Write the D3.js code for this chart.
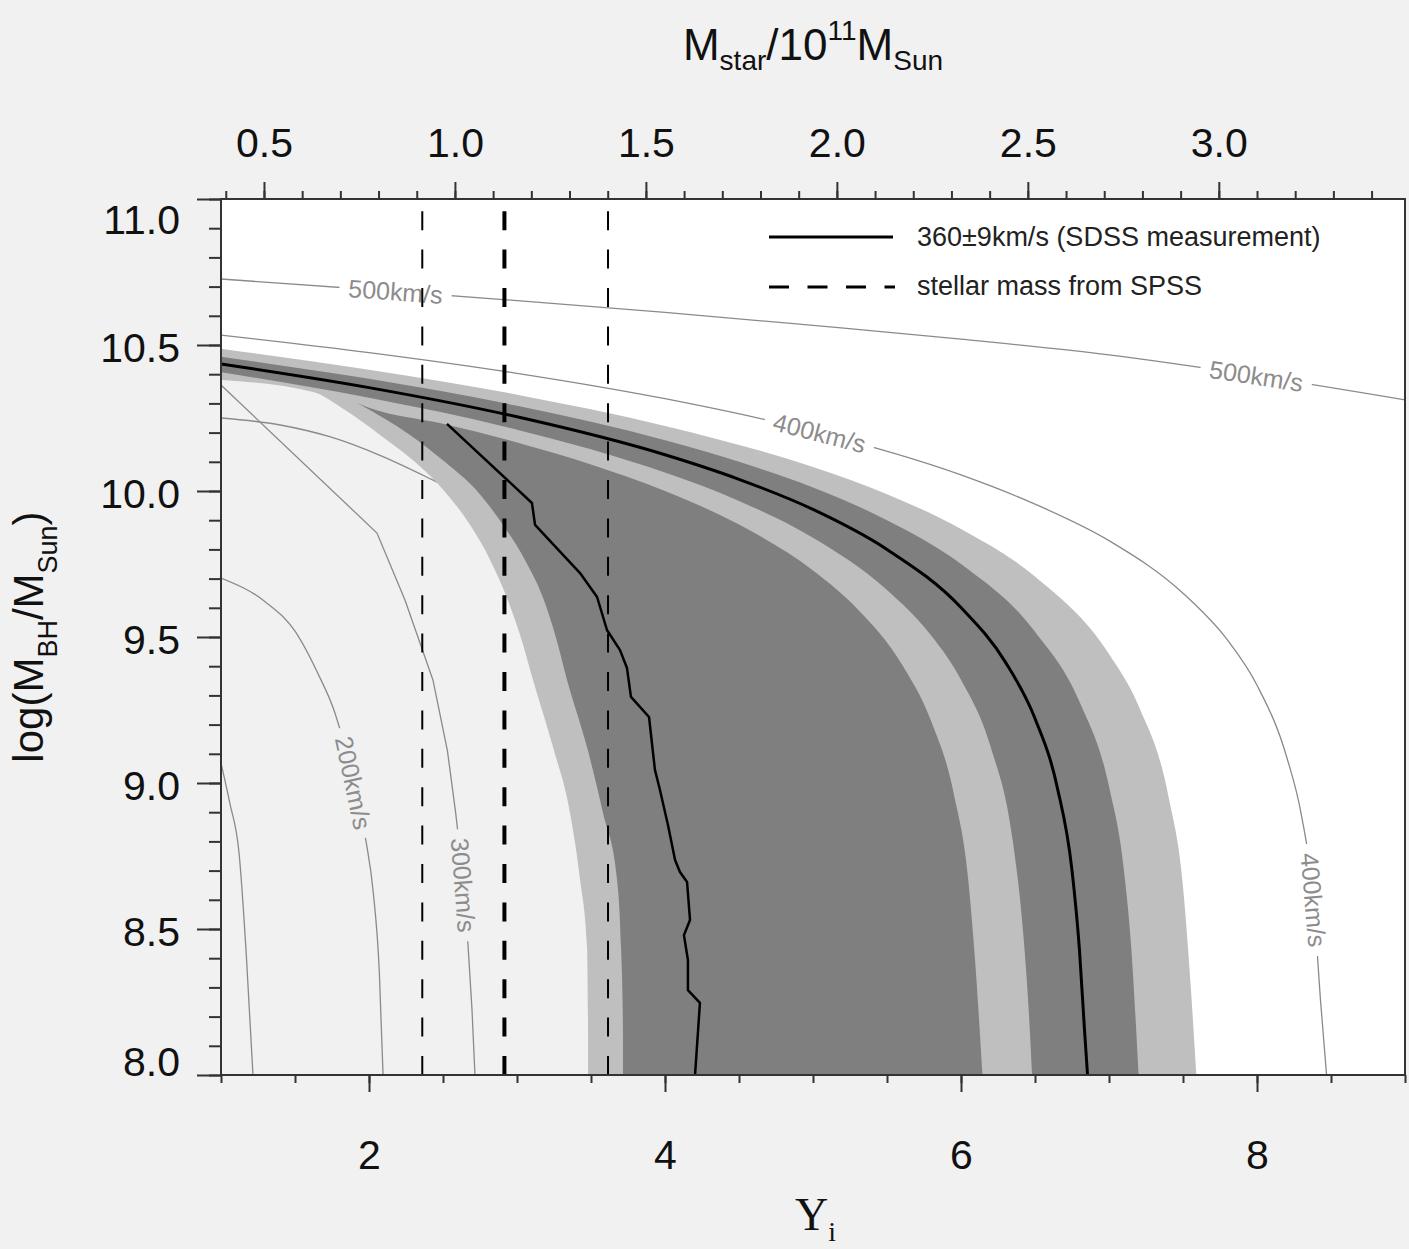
<!DOCTYPE html>
<html>
<head>
<meta charset="utf-8">
<script src="https://cdn.jsdelivr.net/npm/d3@7"></script>
<style>
  html, body { margin: 0; padding: 0; background: #f1f1f1; }
  svg { display: block; }
</style>
</head>
<body>
<svg id="chart"></svg>
<script>
// all curves are [Upsilon_i, log(M_BH/M_Sun)]

// 360 +/- 9 km/s band (SDSS)
const vel360 = [[1,10.435],[2,10.354],[3,10.254],[4,10.124],[4.5,10.04],[5,9.937],[5.5,9.8],[6,9.601],[6.3,9.414],[6.5,9.221],[6.65,8.986],[6.75,8.701],[6.8,8.431],[6.835,8.15],[6.855,8.0]];
const velHi1 = [[1,10.46],[2,10.384],[3,10.292],[4,10.174],[4.5,10.1],[5,10.012],[5.5,9.9],[6,9.75],[6.5,9.518],[6.8,9.279],[7,8.988],[7.1,8.705],[7.15,8.438],[7.2,8.0]];
const velLo1 = [[1,10.407],[2,10.319],[3,10.21],[4,10.063],[4.5,9.966],[5,9.84],[5.5,9.661],[5.8,9.504],[6,9.354],[6.2,9.124],[6.35,8.801],[6.42,8.487],[6.46,8.2],[6.48,8.0]];
const velHi2 = [[1,10.487],[2,10.415],[3,10.33],[4,10.223],[5,10.082],[5.5,9.989],[6,9.87],[6.5,9.707],[7,9.442],[7.2,9.264],[7.4,8.958],[7.5,8.645],[7.55,8.32],[7.59,8.0]];
const velLo2 = [[1,10.379],[1.5,10.335],[2,10.285],[2.5,10.23],[3,10.166],[3.5,10.091],[4,10.0],[4.5,9.885],[5,9.728],[5.3,9.596],[5.6,9.407],[5.8,9.21],[5.95,8.966],[6.05,8.663],[6.1,8.358],[6.145,8.0]];

// second constraint: region edges and its track
const regionOuter = [[1.0,10.38],[1.622,10.339],[1.838,10.277],[2.074,10.192],[2.311,10.099],[2.514,9.997],[2.682,9.884],[2.818,9.764],[2.932,9.634],[3.027,9.497],[3.108,9.353],[3.243,9.123],[3.358,8.897],[3.426,8.668],[3.473,8.438],[3.48,8.154],[3.48,8.0]];
const regionInner = [[1.919,10.301],[2.277,10.192],[2.514,10.099],[2.736,9.997],[2.905,9.884],[3.054,9.764],[3.176,9.634],[3.264,9.497],[3.338,9.353],[3.473,9.123],[3.581,8.897],[3.676,8.668],[3.703,8.438],[3.716,8.154],[3.716,8.0]];
const regionTrack = [[2.527,10.23],[3.101,9.959],[3.122,9.884],[3.426,9.719],[3.541,9.637],[3.608,9.524],[3.696,9.455],[3.743,9.394],[3.77,9.295],[3.892,9.226],[3.932,9.045],[3.966,8.976],[4.02,8.856],[4.068,8.736],[4.101,8.695],[4.149,8.661],[4.169,8.531],[4.128,8.479],[4.155,8.394],[4.155,8.291],[4.236,8.247],[4.203,8.0]];

// velocity contours
const c500 = [[1,10.726],[2,10.69],[3,10.652],[4,10.612],[5,10.567],[6,10.52],[7,10.466],[8,10.394],[9,10.312]];
const c400 = [[1,10.534],[2,10.474],[3,10.403],[4,10.316],[5,10.205],[6,10.055],[6.5,9.955],[7,9.83],[7.5,9.65],[7.8,9.49],[8,9.335],[8.2,9.09],[8.3,8.89],[8.38,8.61],[8.43,8.25],[8.47,8.0]];
const cLowA = [[1.0,10.25],[1.4,10.226],[1.74,10.185],[2.07,10.123],[2.43,10.038],[2.57,10.003],[2.8,9.93]];
const c300 = [[1.0,10.363],[2.054,9.856],[2.243,9.627],[2.432,9.353],[2.53,9.11],[2.585,8.9],[2.63,8.7],[2.669,8.445],[2.696,8.223],[2.716,8.0]];
const c200 = [[1.0,9.702],[1.3,9.62],[1.5,9.52],[1.65,9.38],[1.77,9.24],[1.85,9.1],[1.92,8.94],[1.98,8.8],[2.03,8.62],[2.07,8.35],[2.095,8.0]];
const cLowB = [[1.0,9.068],[1.06,8.93],[1.122,8.76],[1.17,8.42],[1.216,8.0]];

const contourLabels = [
  { curve: c500, text: "500km/s", at: [2.18, 10.685], bg: "white" },
  { curve: c500, text: "500km/s", at: [7.99, 10.39], bg: "white" },
  { curve: c400, text: "400km/s", at: [5.05, 10.209], bg: "white" },
  { curve: c400, text: "400km/s", at: [8.39, 8.6], bg: "white" },
  { curve: c200, text: "200km/s", at: [1.875, 9.0], bg: "paper" },
  { curve: c300, text: "300km/s", at: [2.635, 8.65], bg: "paper" }
];

// stellar mass from SPSS, in Upsilon_i
const spssUpsilon = [2.36, 2.915, 3.615];
const mstarPerUpsilon = 0.3875;   // M_star/1e11 for Upsilon_i = 1

const xTicks = [2, 4, 6, 8];
const topTicks = [0.5, 1.0, 1.5, 2.0, 2.5, 3.0];
const yTicks = [8.0, 8.5, 9.0, 9.5, 10.0, 10.5, 11.0];

const PAPER = "#f1f1f1", LIGHT = "#bfbfbf", DARK = "#7f7f7f";
const SANS = '"Liberation Sans", Arial, Helvetica, sans-serif';

const W = 1409, H = 1249;
const box = { left: 221, right: 1405, top: 199, bottom: 1075 };

const svg = d3.select("#chart").attr("width", W).attr("height", H);
svg.append("rect").attr("width", W).attr("height", H).attr("fill", PAPER);

const x = d3.scaleLinear().domain([1, 9]).range([box.left, box.right]);
const y = d3.scaleLinear().domain([8, 11]).range([box.bottom, box.top]);
const xTop = d3.scaleLinear().domain(x.domain().map(d => d * mstarPerUpsilon)).range(x.range());

const smooth = d3.line().x(d => x(d[0])).y(d => y(d[1])).curve(d3.curveMonotoneX);
const straight = d3.line().x(d => x(d[0])).y(d => y(d[1]));

function band(a, b) {
    return smooth(a) + smooth(b.slice().reverse()).replace(/^M/, "L") + "Z";
}

svg.append("clipPath").attr("id", "plotclip").append("rect")
    .attr("x", box.left).attr("y", box.top)
    .attr("width", box.right - box.left).attr("height", box.bottom - box.top);

const plot = svg.append("g").attr("clip-path", "url(#plotclip)");

// white above, paper below the outer edge of the second region
plot.append("rect")
    .attr("x", box.left).attr("y", box.top)
    .attr("width", box.right - box.left).attr("height", box.bottom - box.top)
    .attr("fill", "white");
plot.append("path")
    .attr("d", smooth(regionOuter) + `L${x(1)},${y(8)}Z`)
    .attr("fill", PAPER);

// contour lines (under the shading)
const contourPaths = new Map();
[c500, c400, cLowA, c300, c200, cLowB].forEach(c => {
    const gen = c === c300 ? straight : smooth;
    const p = plot.append("path")
        .attr("d", gen(c))
        .attr("fill", "none")
        .attr("stroke", "#8a8a8a")
        .attr("stroke-width", 1.3);
    contourPaths.set(c, p.node());
});

// shading
plot.append("path").attr("d", band(velHi2, regionOuter)).attr("fill", LIGHT);
plot.append("path").attr("d", band(velHi1, velLo1)).attr("fill", DARK);
const upper = [regionInner[0]].concat(velLo2.filter(p => p[0] > regionInner[0][0]));
plot.append("path").attr("d", band(upper, regionInner)).attr("fill", DARK);

// contour labels sitting on the lines
contourLabels.forEach(lb => {
    const node = contourPaths.get(lb.curve);
    const px = x(lb.at[0]), py = y(lb.at[1]);
    const len = node.getTotalLength();
    let best = 0, bestD = Infinity;
    for (let s = 0; s <= len; s += 1) {
        const p = node.getPointAtLength(s);
        const d = (p.x - px) * (p.x - px) + (p.y - py) * (p.y - py);
        if (d < bestD) { bestD = d; best = s; }
    }
    const a = node.getPointAtLength(Math.max(0, best - 6));
    const b = node.getPointAtLength(Math.min(len, best + 6));
    const c = node.getPointAtLength(best);
    const ang = Math.atan2(b.y - a.y, b.x - a.x) * 180 / Math.PI;
    const g = plot.append("g").attr("transform", `translate(${c.x},${c.y}) rotate(${ang})`);
    const t = g.append("text")
        .attr("text-anchor", "middle")
        .attr("dy", "0.36em")
        .style("font", `25px ${SANS}`)
        .attr("fill", "#8c8c8c")
        .text(lb.text);
    const bb = t.node().getBBox();
    g.insert("rect", "text")
        .attr("x", bb.x - 9).attr("y", -7)
        .attr("width", bb.width + 18).attr("height", 14)
        .attr("fill", lb.bg === "paper" ? PAPER : "white");
});

// measured curve and track
plot.append("path").attr("d", smooth(vel360))
    .attr("fill", "none").attr("stroke", "black").attr("stroke-width", 3);
plot.append("path").attr("d", straight(regionTrack))
    .attr("fill", "none").attr("stroke", "black").attr("stroke-width", 2.5)
    .attr("stroke-linejoin", "round");

// SPSS stellar mass
plot.selectAll(".spss")
    .data(spssUpsilon)
    .enter()
    .append("line")
    .attr("x1", d => x(d)).attr("x2", d => x(d))
    .attr("y1", y(8)).attr("y2", y(11))
    .attr("stroke", "black")
    .attr("stroke-width", (d, i) => i === 1 ? 4 : 2)
    .attr("stroke-dasharray", "19 19.4");

// frame
svg.append("rect")
    .attr("x", box.left).attr("y", box.top)
    .attr("width", box.right - box.left).attr("height", box.bottom - box.top)
    .attr("fill", "none").attr("stroke", "#333").attr("stroke-width", 2);

function styleAxis(g) {
    g.select(".domain").remove();
    g.selectAll("line").attr("stroke", "#333").attr("stroke-width", 2);
    g.selectAll("text").attr("fill", "#111").style("font", `41px ${SANS}`);
}

// bottom axis
svg.append("g").attr("transform", `translate(0,${box.bottom})`)
    .call(d3.axisBottom(x).tickValues(d3.range(2, 19).map(d => d / 2)).tickSize(8).tickFormat(""))
    .call(styleAxis);
svg.append("g").attr("transform", `translate(0,${box.bottom})`)
    .call(d3.axisBottom(x).tickValues(xTicks).tickSize(17).tickPadding(48).tickFormat(d3.format("d")))
    .call(styleAxis);

// top axis
svg.append("g").attr("transform", `translate(0,${box.top})`)
    .call(d3.axisTop(xTop).tickValues(d3.range(4, 35).map(d => d / 10)).tickSize(8).tickFormat(""))
    .call(styleAxis);
svg.append("g").attr("transform", `translate(0,${box.top})`)
    .call(d3.axisTop(xTop).tickValues(topTicks).tickSize(17).tickPadding(25).tickFormat(d3.format(".1f")))
    .call(styleAxis);

// left axis
svg.append("g").attr("transform", `translate(${box.left},0)`)
    .call(d3.axisLeft(y).tickValues(d3.range(80, 111).map(d => d / 10)).tickSize(12).tickFormat(""))
    .call(styleAxis);
const yAx = svg.append("g").attr("transform", `translate(${box.left},0)`)
    .call(d3.axisLeft(y).tickValues(yTicks).tickSize(24).tickPadding(17).tickFormat(d3.format(".1f")))
    .call(styleAxis);
yAx.selectAll("text").attr("transform", d => `translate(0,${d === 11 ? 21 : d === 8 ? -13 : 3})`);

// legend
const leg = svg.append("g");
leg.append("line").attr("x1", 769).attr("x2", 893).attr("y1", 237).attr("y2", 237)
    .attr("stroke", "black").attr("stroke-width", 3);
leg.append("line").attr("x1", 769).attr("x2", 895).attr("y1", 287).attr("y2", 287)
    .attr("stroke", "black").attr("stroke-width", 3).attr("stroke-dasharray", "20 18.5");
leg.append("text").attr("x", 917).attr("y", 246).style("font", `27px ${SANS}`).attr("fill", "#222")
    .text("360\u00b19km/s (SDSS measurement)");
leg.append("text").attr("x", 917).attr("y", 295).style("font", `27px ${SANS}`).attr("fill", "#222")
    .text("stellar mass from SPSS");

// top title
const title = svg.append("text")
    .attr("x", (box.left + box.right) / 2).attr("y", 60)
    .attr("text-anchor", "middle")
    .style("font", `44px ${SANS}`).attr("fill", "#111");
title.append("tspan").text("M");
title.append("tspan").attr("dy", 10).style("font-size", "28px").text("star");
title.append("tspan").attr("dy", -10).text("/10");
title.append("tspan").attr("dy", -20).style("font-size", "28px").text("11");
title.append("tspan").attr("dy", 20).text("M");
title.append("tspan").attr("dy", 10).style("font-size", "28px").text("Sun");

// y title
const ytitle = svg.append("text")
    .attr("transform", `translate(43,${(box.top + box.bottom) / 2})rotate(-90)`)
    .attr("text-anchor", "middle")
    .style("font", `42px ${SANS}`).attr("fill", "#111");
ytitle.append("tspan").text("log(M");
ytitle.append("tspan").attr("dy", 14).style("font-size", "27px").text("BH");
ytitle.append("tspan").attr("dy", -14).text("/M");
ytitle.append("tspan").attr("dy", 14).style("font-size", "27px").text("Sun");
ytitle.append("tspan").attr("dy", -14).text(")");

// x title
const xtitle = svg.append("text")
    .attr("x", 795).attr("y", 1230)
    .style("font", `46px "Liberation Serif", "DejaVu Serif", serif`).attr("fill", "#111");
xtitle.append("tspan").text("\u03a5");
xtitle.append("tspan").attr("dy", 11).style("font-size", "28px").text("i");
</script>
</body>
</html>
